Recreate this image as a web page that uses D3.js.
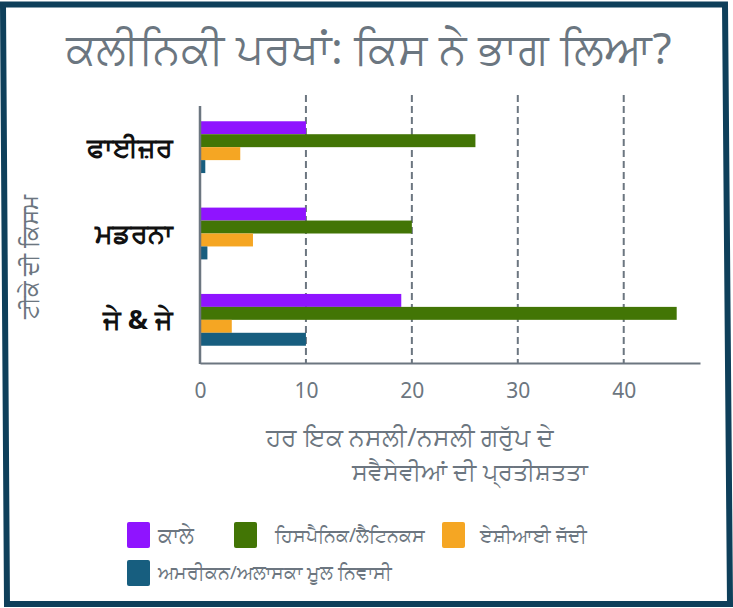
<!DOCTYPE html>
<html>
<head>
<meta charset="utf-8">
<script src="https://cdn.jsdelivr.net/npm/d3@7"></script>
<style>
body { margin: 0; background: #fff; }
text { font-family: "Noto Sans", "DejaVu Sans", sans-serif; }
</style>
</head>
<body>
<script>
var vaccines = ["ਫਾਈਜ਼ਰ", "ਮਡਰਨਾ", "ਜੇ & ਜੇ"];
var groups = ["ਕਾਲੇ", "ਹਿਸਪੈਨਿਕ/ਲੈਟਿਨਕਸ", "ਏਸ਼ੀਆਈ ਜੱਦੀ", "ਅਮਰੀਕਨ/ਅਲਾਸਕਾ ਮੂਲ ਨਿਵਾਸੀ"];
var black = [10, 10, 19];
var hispanic = [26, 20, 45];
var asian = [3.8, 5, 3];
var nativeAm = [0.5, 0.7, 10];
var xTicks = [0, 10, 20, 30, 40];
var colors = ["#8f14ff", "#427505", "#f5a623", "#175e7f"];

var w = 733, h = 608;
var series = [black, hispanic, asian, nativeAm];

var svg = d3.select("body").append("svg")
    .attr("width", w)
    .attr("height", h);

// frame
svg.append("path")
    .attr("d", "M3,4.5 L725,4.5 L730,604 L7,604 Z")
    .attr("fill", "none")
    .attr("stroke", "#0e3f5a")
    .attr("stroke-width", 6);

svg.append("text")
    .attr("x", 369).attr("y", 64)
    .attr("text-anchor", "middle")
    .attr("font-size", 44)
    .attr("fill", "#6b7680")
    .text("ਕਲੀਨਿਕੀ ਪਰਖਾਂ: ਕਿਸ ਨੇ ਭਾਗ ਲਿਆ?");

var x = d3.scaleLinear().domain([0, 47.2]).range([200, 700]);
var y = d3.scaleBand().domain(vaccines).range([104, 363]).paddingInner(0.4).paddingOuter(0.2);
var y1 = d3.scaleBand().domain(d3.range(4)).range([0, y.bandwidth()]);

// grid
svg.selectAll("line.grid")
    .data(xTicks.slice(1))
    .enter()
    .append("line")
    .attr("class", "grid")
    .attr("x1", function(d){ return x(d); })
    .attr("x2", function(d){ return x(d); })
    .attr("y1", 95)
    .attr("y2", 363)
    .attr("stroke", "#6c7680")
    .attr("stroke-width", 2)
    .attr("stroke-dasharray", "7,4");

series.forEach(function(vals, si){
    svg.selectAll("rect.s" + si)
        .data(vals)
        .enter()
        .append("rect")
        .attr("class", "s" + si)
        .attr("x", x(0))
        .attr("y", function(d, i){ return y(vaccines[i]) + y1(si); })
        .attr("width", function(d){ return x(d) - x(0); })
        .attr("height", y1.bandwidth())
        .attr("fill", colors[si]);
});

// axes
var xAxis = svg.append("g")
    .attr("transform", "translate(0,363)")
    .call(d3.axisBottom(x).tickValues(xTicks).tickSize(0).tickPadding(20));
xAxis.select(".domain").attr("stroke", "#6c7680").attr("stroke-width", 2);
xAxis.selectAll("text")
    .attr("font-size", 21)
    .attr("fill", "#6c7680")
    .attr("font-family", "DejaVu Sans");

svg.append("line")
    .attr("x1", x(0)).attr("x2", x(0))
    .attr("y1", 106).attr("y2", 364)
    .attr("stroke", "#6c7680")
    .attr("stroke-width", 2.5);

svg.selectAll("text.cat")
    .data(vaccines)
    .enter()
    .append("text")
    .attr("class", "cat")
    .attr("x", 173)
    .attr("y", function(d){ return y(d) + y.bandwidth() / 2; })
    .attr("dy", "0.35em")
    .attr("text-anchor", "end")
    .attr("font-size", 27)
    .attr("font-weight", "bold")
    .attr("fill", "#111")
    .text(function(d){ return d; });

svg.append("text")
    .attr("transform", "translate(38,257) rotate(-90)")
    .attr("text-anchor", "middle")
    .attr("font-size", 23)
    .attr("fill", "#6c7680")
    .text("ਟੀਕੇ ਦੀ ਕਿਸਮ");

svg.append("text")
    .attr("x", 410).attr("y", 446)
    .attr("text-anchor", "middle")
    .attr("font-size", 25)
    .attr("fill", "#6c7680")
    .text("ਹਰ ਇਕ ਨਸਲੀ/ਨਸਲੀ ਗਰੁੱਪ ਦੇ");
svg.append("text")
    .attr("x", 470).attr("y", 480)
    .attr("text-anchor", "middle")
    .attr("font-size", 24)
    .attr("fill", "#6c7680")
    .text("ਸਵੈਸੇਵੀਆਂ ਦੀ ਪ੍ਰਤੀਸ਼ਤਤਾ");

// legend
var legPos = [[127, 522], [234, 522], [442, 522], [127, 560]];
var legSize = [22, 19, 19, 18.5];
var leg = svg.selectAll("g.leg")
    .data(groups)
    .enter()
    .append("g")
    .attr("class", "leg")
    .attr("transform", function(d, i){ return "translate(" + legPos[i][0] + "," + legPos[i][1] + ")"; });
leg.append("rect")
    .attr("width", 23).attr("height", 26)
    .attr("rx", 2)
    .attr("fill", function(d, i){ return colors[i]; });
leg.append("text")
    .attr("x", function(d, i){ return i == 1 ? 41 : (i == 2 ? 38 : 31); })
    .attr("y", 13)
    .attr("dy", "0.35em")
    .attr("font-size", function(d, i){ return legSize[i]; })
    .attr("fill", "#6c7680")
    .text(function(d){ return d; });
</script>
</body>
</html>
